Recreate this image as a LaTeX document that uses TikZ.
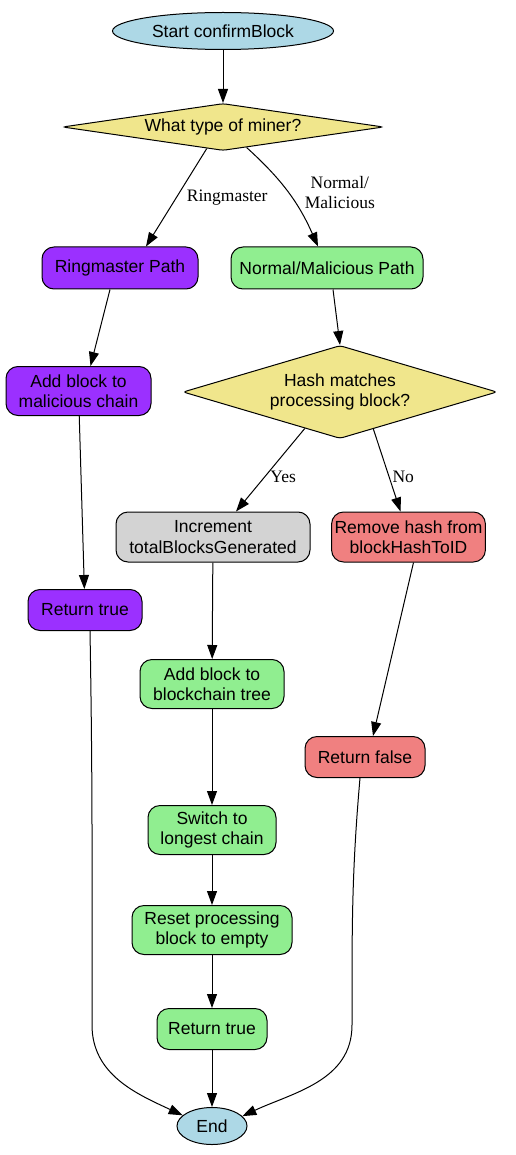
\documentclass[tikz,border=0pt]{standalone}
\usepackage{fontspec}
\setmainfont{Liberation Serif}
\setsansfont{Liberation Sans}
\usetikzlibrary{shapes.geometric,arrows.meta}
\definecolor{lightblue}{HTML}{ADD8E6}
\definecolor{khaki}{HTML}{F0E68C}
\definecolor{rmpurple}{HTML}{9B30FF}
\definecolor{lightgreen}{HTML}{90EE90}
\definecolor{lightgray}{HTML}{D3D3D3}
\definecolor{lightcoral}{HTML}{F08080}
\newcommand*{\nodefont}{\sffamily\fontsize{17.5}{20.5}\selectfont}
\newcommand*{\edgefont}{\rmfamily\fontsize{17.5}{20.5}\selectfont}
\tikzset{
  startstop/.style={ellipse, draw, line width=1pt, fill=lightblue, minimum height=37pt, inner sep=2pt, font=\nodefont},
  decision/.style={diamond, draw, line width=1pt, fill=khaki, rounded corners=3pt, inner sep=0pt, align=center, font=\nodefont},
  process/.style={rectangle, draw, line width=1pt, rounded corners=12pt, align=center, inner sep=3pt, font=\nodefont},
  arr/.style={-{Triangle[length=14pt,width=10pt]}, line width=1pt},
  lbl/.style={font=\edgefont, align=center, inner sep=2pt}
}

\begin{document}
\begin{tikzpicture}[x=1pt,y=1pt]
  \useasboundingbox (0,0) rectangle (515,-1155);
  % nodes
  \node[startstop, minimum width=221pt] (start) at (223,-31) {Start confirmBlock};
  \node[decision, shape aspect=6.83, minimum width=321pt, minimum height=47pt] (type) at (223,-127) {What type of miner?};
  \node[process, fill=rmpurple, minimum width=156pt, minimum height=42pt] (ring) at (120,-268) {Ringmaster Path};
  \node[process, fill=lightgreen, minimum width=192pt, minimum height=42pt] (normp) at (327,-268) {Normal/Malicious Path};
  \node[process, fill=rmpurple, minimum width=145pt, minimum height=49pt] (addmal) at (78.5,-391) {Add block to\\malicious chain};
  \node[decision, shape aspect=3.38, minimum width=314pt, minimum height=93pt] (hash) at (340,-392) {Hash matches\\processing block?};
  \node[process, fill=lightgray, minimum width=194pt, minimum height=50pt] (incr) at (213,-537) {Increment\\totalBlocksGenerated};
  \node[process, fill=lightcoral, minimum width=151pt, minimum height=50pt] (remove) at (408.5,-537) {Remove hash from\\blockHashToID};
  \node[process, fill=rmpurple, minimum width=114pt, minimum height=41pt] (rt1) at (85,-610) {Return true};
  \node[process, fill=lightgreen, minimum width=144pt, minimum height=49pt] (addtree) at (212,-684) {Add block to\\blockchain tree};
  \node[process, fill=lightcoral, minimum width=120pt, minimum height=41pt] (retfalse) at (365,-757) {Return false};
  \node[process, fill=lightgreen, minimum width=128pt, minimum height=49pt] (switch) at (212,-830) {Switch to\\longest chain};
  \node[process, fill=lightgreen, minimum width=160pt, minimum height=49pt] (reset) at (212,-930) {Reset processing\\block to empty};
  \node[process, fill=lightgreen, minimum width=110pt, minimum height=41pt] (rt2) at (212,-1029) {Return true};
  \node[startstop, minimum width=70pt] (end) at (212,-1126) {End};
  \coordinate (lbend) at (92,-1025);
  \coordinate (rbend) at (352,-1025);

  % edges
  \draw[arr] (start) -- (type);
  \draw[arr] (type.233) -- node[lbl, midway, right, xshift=8pt] {Ringmaster} ([xshift=26pt]ring.north);
  \draw[arr] (type.319) to[bend left=12] node[lbl, midway, right, xshift=14pt] {Normal/\\Malicious} ([xshift=-9pt]normp.north);
  \draw[arr] ([xshift=-10pt]ring.south) -- ([xshift=12pt]addmal.north);
  \draw[arr] ([xshift=6pt]normp.south) -- (hash.north);
  \draw[arr] (addmal) -- (rt1);
  \draw[arr] (hash.226) -- node[lbl, pos=0.58, right, xshift=3pt] {Yes} ([xshift=23pt]incr.north);
  \draw[arr] (hash.312) -- node[lbl, pos=0.58, right, xshift=1pt] {No} ([xshift=-8pt]remove.north);
  \draw[arr] (incr) -- (addtree);
  \draw[arr] ([xshift=5pt]remove.south) -- ([xshift=8pt]retfalse.north);
  \draw[arr] (addtree) -- (switch);
  \draw[arr] (switch) -- (reset);
  \draw[arr] (reset) -- (rt2);
  \draw[arr] (rt2) -- (end);
  \draw[arr] ([xshift=5pt]rt1.south) to[out=-89, in=90] (lbend) to[out=-90, in=155] (end.160);
  \draw[arr] ([xshift=-5pt]retfalse.south) to[out=-95, in=90] (rbend) to[out=-90, in=25] (end.18);
\end{tikzpicture}
\end{document}
